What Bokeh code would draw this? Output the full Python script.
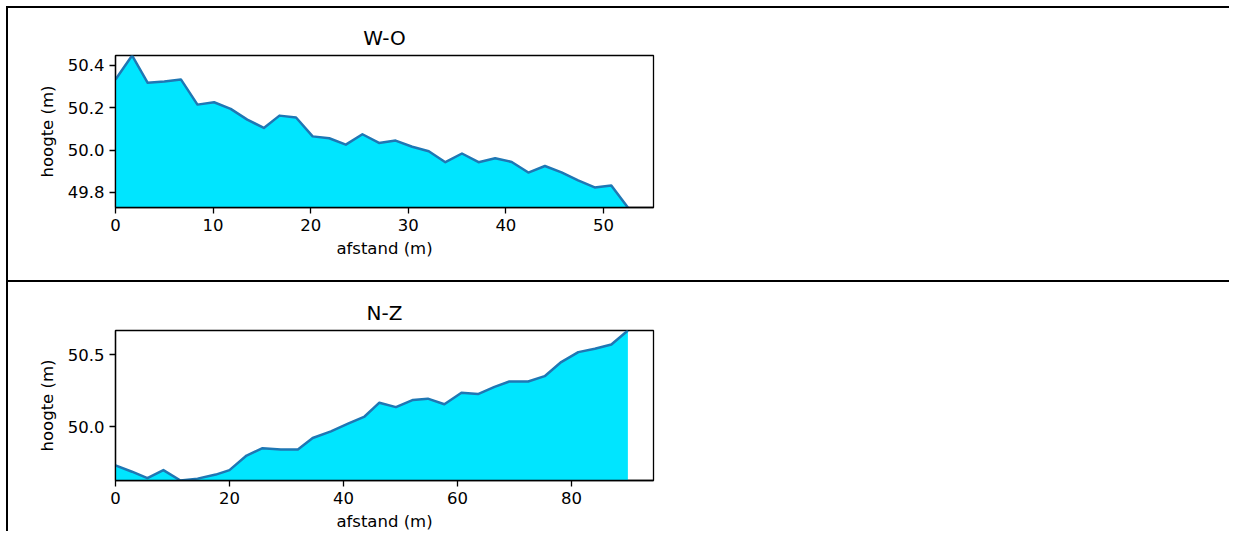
from bokeh.plotting import figure
from bokeh.layouts import column
from bokeh.models import Range1d, FixedTicker, PrintfTickFormatter
from bokeh.embed import file_html
from bokeh.resources import INLINE

# W-O profile (afstand in m, hoogte in m)
wo_dist = [0.0, 1.7, 3.3, 5.0, 6.7, 8.4, 10.1, 11.8, 13.5, 15.2, 16.8, 18.5,
           20.2, 21.9, 23.6, 25.3, 27.0, 28.7, 30.4, 32.1, 33.8, 35.5, 37.2,
           38.9, 40.6, 42.3, 44.0, 45.7, 47.4, 49.1, 50.8, 52.5]
wo_height = [50.334, 50.447, 50.318, 50.324, 50.334, 50.215, 50.226, 50.195,
             50.144, 50.105, 50.163, 50.154, 50.065, 50.056, 50.026, 50.075,
             50.034, 50.045, 50.016, 49.995, 49.943, 49.984, 49.943, 49.962,
             49.944, 49.894, 49.925, 49.895, 49.857, 49.824, 49.833, 49.729]

# N-Z profile
nz_dist = [0.0, 2.9, 5.6, 8.4, 11.4, 14.4, 17.6, 20.0, 23.0, 25.8, 29.0, 32.0,
           34.6, 37.8, 40.8, 43.7, 46.3, 49.2, 52.2, 54.8, 57.7, 60.7, 63.6,
           66.5, 69.1, 72.4, 75.3, 78.2, 81.2, 84.1, 87.0, 89.9]
nz_height = [49.732, 49.688, 49.644, 49.699, 49.627, 49.640, 49.668, 49.699,
             49.800, 49.851, 49.842, 49.842, 49.922, 49.968, 50.021, 50.071,
             50.167, 50.136, 50.186, 50.195, 50.156, 50.236, 50.227, 50.277,
             50.314, 50.314, 50.351, 50.449, 50.518, 50.541, 50.571, 50.668]

wo_xticks = [0, 10, 20, 30, 40, 50]
wo_yticks = [49.8, 50.0, 50.2, 50.4]
nz_xticks = [0, 20, 40, 60, 80]
nz_yticks = [50.0, 50.5]

titles = ["W-O", "N-Z"]
xlabel = "afstand (m)"
ylabel = "hoogte (m)"

FONT = "DejaVu Sans"
FILL = "#00e5ff"
LINE = "#1f77b4"


def make_panel(title, dist, height, xticks, yticks, h, top, bottom, margin):
    p = figure(width=1223, height=h, output_backend="svg", toolbar_location=None,
               x_range=Range1d(0, max(dist) * 1.05),
               y_range=Range1d(min(height), max(height)),
               min_border_left=107, min_border_right=578,
               min_border_top=top, min_border_bottom=bottom,
               title=title, background_fill_color="white",
               border_fill_color="white", margin=margin)
    p.varea(x=dist, y1=min(height) - 1.0, y2=height, fill_color=FILL)
    p.line(dist, height, line_color=LINE, line_width=2.5, line_join="round")

    p.title.align = "center"
    p.title.text_font = FONT
    p.title.text_font_size = "20px"
    p.title.text_font_style = "normal"
    p.title.text_color = "black"
    p.title.standoff = 12

    p.xgrid.visible = False
    p.ygrid.visible = False
    p.outline_line_color = "black"
    p.outline_line_width = 1.3
    p.outline_line_alpha = 1.0

    for ax in (p.xaxis[0], p.yaxis[0]):
        ax.axis_line_color = "black"
        ax.axis_line_width = 1.3
        ax.major_tick_line_color = "black"
        ax.major_tick_line_width = 1.3
        ax.major_tick_out = 6
        ax.major_tick_in = 0
        ax.minor_tick_line_color = None
        ax.major_label_text_font = FONT
        ax.major_label_text_font_size = "16.5px"
        ax.major_label_text_color = "black"
        ax.axis_label_text_font = FONT
        ax.axis_label_text_font_size = "16.5px"
        ax.axis_label_text_font_style = "normal"
        ax.axis_label_text_color = "black"
        ax.major_label_standoff = 5

    p.xaxis[0].ticker = FixedTicker(ticks=xticks)
    p.xaxis[0].formatter = PrintfTickFormatter(format="%d")
    p.xaxis[0].axis_label = xlabel
    p.xaxis[0].axis_label_standoff = 5
    p.yaxis[0].ticker = FixedTicker(ticks=yticks)
    p.yaxis[0].formatter = PrintfTickFormatter(format="%.1f")
    p.yaxis[0].axis_label = ylabel
    p.yaxis[0].axis_label_standoff = 8

    p.styles = {"border-top": "2px solid black", "border-left": "2px solid black"}
    return p


p1 = make_panel(titles[0], wo_dist, wo_height, wo_xticks, wo_yticks, 274, 47, 75, (6, 0, 0, 6))
p2 = make_panel(titles[1], nz_dist, nz_height, nz_xticks, nz_yticks, 251, 48, 53, (0, 0, 0, 6))

layout = column(p1, p2, spacing=0)

open("out.html", "w").write(file_html(layout, INLINE))
